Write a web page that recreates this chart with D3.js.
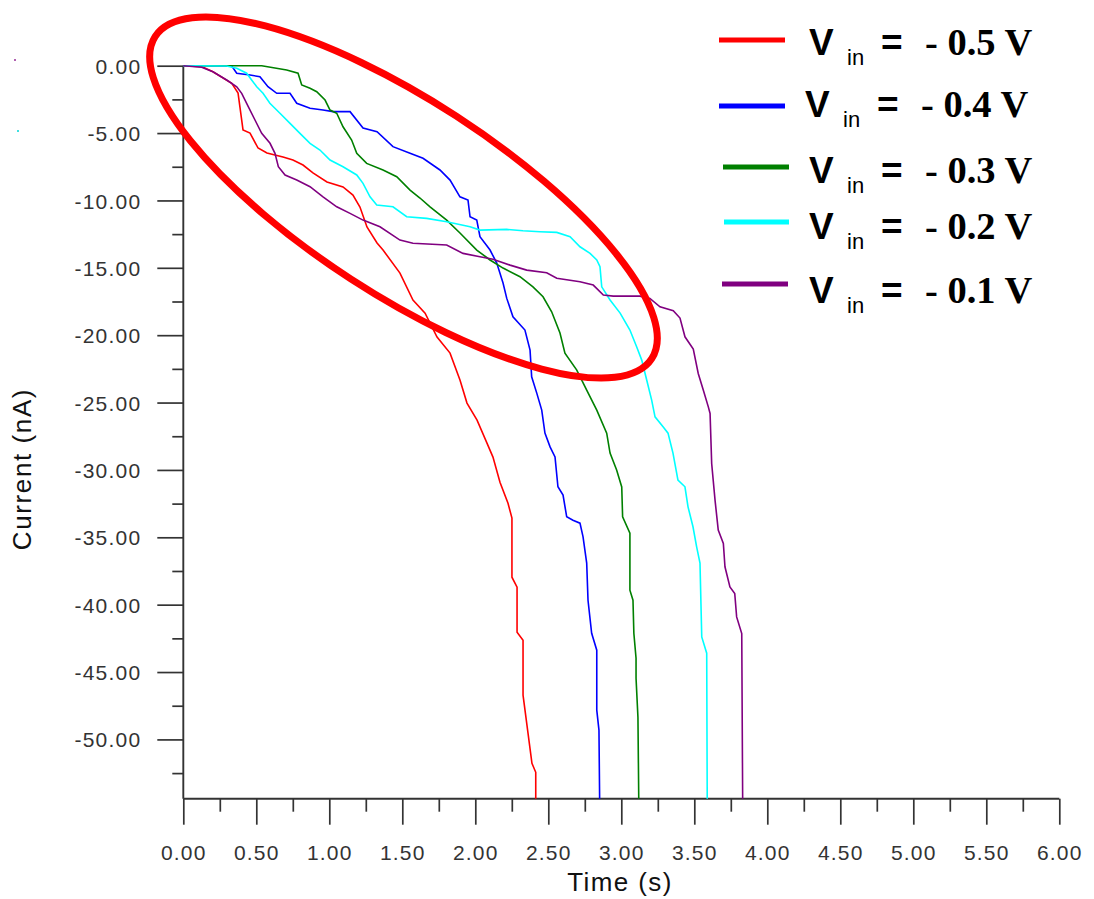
<!DOCTYPE html>
<html>
<head>
<meta charset="utf-8">
<script src="https://cdn.jsdelivr.net/npm/d3@7"></script>
<style>
  html, body { margin: 0; padding: 0; background: #ffffff; }
  svg { display: block; }
</style>
</head>
<body>
<svg id="chart" width="1094" height="899"></svg>
<script>
// ---------------- DATA ----------------
const xTickLabels = ["0.00","0.50","1.00","1.50","2.00","2.50","3.00","3.50","4.00","4.50","5.00","5.50","6.00"];
const yTickLabels = ["0.00","-5.00","-10.00","-15.00","-20.00","-25.00","-30.00","-35.00","-40.00","-45.00","-50.00"];
const seriesNames = ["- 0.5 V", "- 0.4 V", "- 0.3 V", "- 0.2 V", "- 0.1 V"];
const seriesColors = ["#ff0000", "#0000ff", "#008000", "#00ffff", "#800080"];

// [time (s), current (nA)]
const vin05 = [[0,0],[0.126,-0.07],[0.203,-0.45],[0.332,-1.31],[0.375,-2.03],[0.388,-3.07],[0.409,-4.77],[0.457,-5.00],
  [0.512,-6.11],[0.573,-6.48],[0.683,-6.78],[0.751,-7.00],[0.820,-7.37],[0.888,-7.96],[0.984,-8.63],[1.094,-9.00],
  [1.162,-9.60],[1.210,-10.49],[1.258,-11.97],[1.327,-13.16],[1.368,-13.68],[1.484,-15.39],[1.573,-17.40],[1.656,-18.36],
  [1.738,-20.14],[1.827,-21.33],[1.895,-23.33],[1.943,-25.04],[2.012,-26.30],[2.080,-28.01],[2.121,-29.05],[2.169,-30.91],
  [2.224,-32.47],[2.251,-33.58],[2.251,-37.96],[2.286,-38.70],[2.286,-42.04],[2.327,-42.64],[2.327,-46.72],[2.361,-49.54],
  [2.388,-51.77],[2.414,-52.44],[2.414,-56]];
const vin04 = [[0,0],[0.332,-0.02],[0.366,-0.56],[0.457,-0.69],[0.525,-0.82],[0.580,-1.56],[0.640,-2.05],[0.731,-2.05],
  [0.777,-2.79],[0.868,-3.16],[0.957,-3.29],[1.025,-3.41],[1.142,-3.41],[1.231,-4.63],[1.327,-4.90],[1.436,-6.01],
  [1.553,-6.50],[1.642,-6.87],[1.758,-7.74],[1.827,-8.49],[1.895,-9.73],[1.950,-9.97],[1.964,-11.21],[2.010,-11.46],
  [2.032,-12.69],[2.101,-13.68],[2.147,-14.65],[2.190,-16.13],[2.215,-17.25],[2.258,-18.63],[2.340,-19.62],[2.375,-21.11],
  [2.386,-23.09],[2.421,-24.30],[2.455,-25.56],[2.477,-27.27],[2.512,-28.29],[2.546,-29.03],[2.566,-31.25],[2.601,-31.87],
  [2.626,-33.48],[2.669,-33.73],[2.717,-33.95],[2.738,-34.97],[2.763,-36.92],[2.772,-39.67],[2.797,-42.12],[2.832,-43.38],
  [2.832,-47.83],[2.847,-49.31],[2.853,-56]];
const vin03 = [[0,0],[0.537,0],[0.708,-0.32],[0.786,-0.56],[0.811,-1.43],[0.868,-1.68],[0.914,-1.93],[0.971,-2.55],
  [1.005,-3.29],[1.051,-3.53],[1.094,-4.53],[1.153,-5.52],[1.188,-6.50],[1.256,-7.25],[1.368,-7.74],[1.462,-8.24],
  [1.553,-9.23],[1.621,-9.82],[1.690,-10.47],[1.804,-11.46],[1.895,-12.42],[2.010,-13.68],[2.101,-14.42],[2.190,-15.02],
  [2.306,-15.66],[2.395,-16.41],[2.464,-17.15],[2.523,-18.26],[2.580,-19.84],[2.614,-21.33],[2.695,-22.59],[2.763,-24.08],
  [2.832,-25.56],[2.900,-27.27],[2.923,-28.75],[2.968,-30.01],[3.003,-31.26],[3.009,-33.48],[3.059,-34.69],[3.059,-38.92],
  [3.080,-39.67],[3.086,-42.12],[3.101,-43.97],[3.101,-45.46],[3.114,-48.35],[3.121,-56]];
const vin02 = [[0,0],[0.297,-0.02],[0.366,-0.19],[0.434,-0.56],[0.468,-1.06],[0.503,-1.56],[0.546,-2.05],[0.593,-2.79],
  [0.662,-3.53],[0.731,-4.28],[0.799,-5.02],[0.868,-5.76],[0.936,-6.26],[1.005,-7.00],[1.094,-7.50],[1.188,-8.11],
  [1.231,-8.73],[1.279,-9.73],[1.325,-10.34],[1.436,-10.47],[1.530,-11.21],[1.667,-11.33],[1.804,-11.58],[1.964,-11.95],
  [2.032,-12.20],[2.215,-12.15],[2.327,-12.25],[2.443,-12.32],[2.558,-12.37],[2.649,-12.69],[2.717,-13.44],[2.786,-13.93],
  [2.832,-14.42],[2.854,-14.92],[2.866,-16.41],[2.923,-17.39],[2.992,-18.36],[3.059,-19.62],[3.105,-20.86],[3.140,-21.85],
  [3.174,-23.33],[3.208,-24.82],[3.231,-26.06],[3.286,-26.80],[3.320,-27.27],[3.354,-28.75],[3.388,-30.76],[3.436,-31.25],
  [3.457,-32.74],[3.491,-34.22],[3.516,-35.71],[3.539,-36.92],[3.551,-42.39],[3.585,-43.60],[3.589,-56]];
const vin01 = [[0,0],[0.126,-0.12],[0.203,-0.45],[0.297,-1.06],[0.366,-1.56],[0.400,-2.05],[0.445,-3.04],[0.491,-4.03],
  [0.537,-5.02],[0.594,-5.76],[0.628,-6.50],[0.651,-7.50],[0.697,-8.11],[0.777,-8.49],[0.868,-8.98],[0.957,-9.73],
  [1.051,-10.47],[1.142,-10.96],[1.231,-11.46],[1.347,-11.95],[1.484,-12.94],[1.573,-13.18],[1.804,-13.31],[1.916,-13.93],
  [2.032,-14.18],[2.121,-14.37],[2.238,-14.80],[2.352,-15.17],[2.489,-15.37],[2.558,-15.78],[2.717,-16.04],[2.808,-16.28],
  [2.877,-17.02],[2.945,-17.10],[3.128,-17.10],[3.196,-17.27],[3.265,-17.89],[3.356,-18.19],[3.402,-18.73],[3.436,-20.12],
  [3.493,-21.03],[3.527,-22.84],[3.562,-24.08],[3.596,-25.32],[3.608,-25.81],[3.619,-29.52],[3.642,-32.24],[3.664,-34.47],
  [3.699,-35.46],[3.710,-37.19],[3.744,-38.68],[3.777,-39.17],[3.790,-40.91],[3.825,-42.14],[3.832,-56]];
const allSeries = [vin05, vin04, vin03, vin02, vin01];

// ---------------- LAYOUT ----------------
const svg = d3.select("#chart");
const plotLeft = 183.3, plotRight = 1059.3, plotTop = 65.7, plotBottom = 798.7;
const x = d3.scaleLinear().domain([0, 6]).range([plotLeft, plotRight]);
const y = d3.scaleLinear().domain([-54.4, 0]).range([plotBottom, plotTop]);
const axisColor = "#333333";
const labelFont = "'Liberation Sans', Arial, sans-serif";

svg.append("rect").attr("width", 1094).attr("height", 899).attr("fill", "#ffffff");

// stray marker dots in the left margin of the original
svg.append("rect").attr("x", 14).attr("y", 59).attr("width", 2).attr("height", 2).attr("fill", "#b060b0");
svg.append("rect").attr("x", 17).attr("y", 130).attr("width", 2).attr("height", 2).attr("fill", "#40e0e0");

// clip
svg.append("defs").append("clipPath").attr("id", "plotClip")
  .append("rect").attr("x", plotLeft - 2).attr("y", plotTop - 3)
  .attr("width", plotRight - plotLeft + 4).attr("height", plotBottom - plotTop + 3);

// Y axis
const yMajor = yTickLabels.map(s => +s);
const yMinor = d3.range(-2.5, -54, -5);
const gy = svg.append("g").attr("transform", `translate(${plotLeft},0)`)
  .call(d3.axisLeft(y).tickValues(yMajor).tickSize(26).tickFormat((d, i) => yTickLabels[i]).tickPadding(16));
gy.select(".domain").remove();
gy.selectAll(".tick line").attr("stroke", axisColor).attr("stroke-width", 1.7);
gy.selectAll(".tick text").attr("font-family", labelFont).attr("font-size", 21)
  .attr("letter-spacing", "1.2px").attr("fill", "#333").attr("dy", "0.36em");
const gyMinor = svg.append("g").attr("transform", `translate(${plotLeft},0)`)
  .call(d3.axisLeft(y).tickValues(yMinor).tickSize(11).tickFormat(""));
gyMinor.select(".domain").remove();
gyMinor.selectAll(".tick line").attr("stroke", axisColor).attr("stroke-width", 1.7);
svg.append("line").attr("x1", plotLeft).attr("x2", plotLeft).attr("y1", plotTop).attr("y2", plotBottom)
  .attr("stroke", axisColor).attr("stroke-width", 1.9);

// X axis
const xMajor = xTickLabels.map(s => +s);
const xMinor = d3.range(0.25, 6, 0.5);
const gx = svg.append("g").attr("transform", `translate(0,${plotBottom})`)
  .call(d3.axisBottom(x).tickValues(xMajor).tickSize(26).tickFormat((d, i) => xTickLabels[i]).tickPadding(20));
gx.select(".domain").remove();
gx.selectAll(".tick line").attr("stroke", axisColor).attr("stroke-width", 1.7);
gx.selectAll(".tick text").attr("font-family", labelFont).attr("font-size", 21)
  .attr("letter-spacing", "1.2px").attr("fill", "#333");
const gxMinor = svg.append("g").attr("transform", `translate(0,${plotBottom})`)
  .call(d3.axisBottom(x).tickValues(xMinor).tickSize(13).tickFormat(""));
gxMinor.select(".domain").remove();
gxMinor.selectAll(".tick line").attr("stroke", axisColor).attr("stroke-width", 1.7);
svg.append("line").attr("x1", plotLeft).attr("x2", plotRight).attr("y1", plotBottom).attr("y2", plotBottom)
  .attr("stroke", axisColor).attr("stroke-width", 1.9);

// Axis titles
svg.append("text").attr("x", 620).attr("y", 891).attr("text-anchor", "middle")
  .attr("font-family", labelFont).attr("font-size", 26).attr("letter-spacing", "1.4px")
  .attr("fill", "#111").text("Time (s)");
svg.append("text").attr("transform", "translate(31,469) rotate(-90)").attr("text-anchor", "middle")
  .attr("font-family", labelFont).attr("font-size", 26).attr("letter-spacing", "1.6px")
  .attr("fill", "#111").text("Current (nA)");

// Lines
const line = d3.line().x(d => x(d[0])).y(d => y(d[1]));
const gLines = svg.append("g").attr("clip-path", "url(#plotClip)");
allSeries.forEach((s, i) => {
  gLines.append("path").datum(s).attr("d", line).attr("fill", "none")
    .attr("stroke", seriesColors[i]).attr("stroke-width", 1.6).attr("stroke-linejoin", "miter");
});

// Annotation ellipse
svg.append("ellipse").attr("cx", 0).attr("cy", 0).attr("rx", 296).attr("ry", 97)
  .attr("transform", "translate(403.5,197.5) rotate(33)")
  .attr("fill", "none").attr("stroke", "#ff0000").attr("stroke-width", 7);

// Legend
const legLineY = [40, 106, 167, 222, 284];
const legLineX = [[719, 785], [719, 785], [723, 789], [724, 789], [722, 788]];
const legBase = [55, 117, 183, 239, 303];
const legShift = [0, -4, 0, 0, 0];
const gLeg = svg.append("g");
seriesNames.forEach((name, i) => {
  gLeg.append("line").attr("x1", legLineX[i][0]).attr("x2", legLineX[i][1])
    .attr("y1", legLineY[i]).attr("y2", legLineY[i])
    .attr("stroke", seriesColors[i]).attr("stroke-width", 5);
  const sx = legShift[i];
  gLeg.append("text").attr("x", 809 + sx).attr("y", legBase[i])
    .attr("font-family", labelFont).attr("font-weight", "bold").attr("font-size", 37).attr("fill", "#000").text("V");
  gLeg.append("text").attr("x", 847 + sx).attr("y", legBase[i] + 10)
    .attr("font-family", labelFont).attr("font-size", 22).attr("fill", "#000").text("in");
  gLeg.append("text").attr("x", 881 + sx).attr("y", legBase[i])
    .attr("font-family", labelFont).attr("font-weight", "bold").attr("font-size", 37).attr("fill", "#000").text("=");
  gLeg.append("text").attr("x", 925 + sx).attr("y", legBase[i])
    .attr("font-family", "'Liberation Serif', 'Times New Roman', serif").attr("font-weight", "bold")
    .attr("font-size", 38.5).attr("fill", "#000").attr("xml:space", "preserve").text(name);
});
</script>
</body>
</html>
